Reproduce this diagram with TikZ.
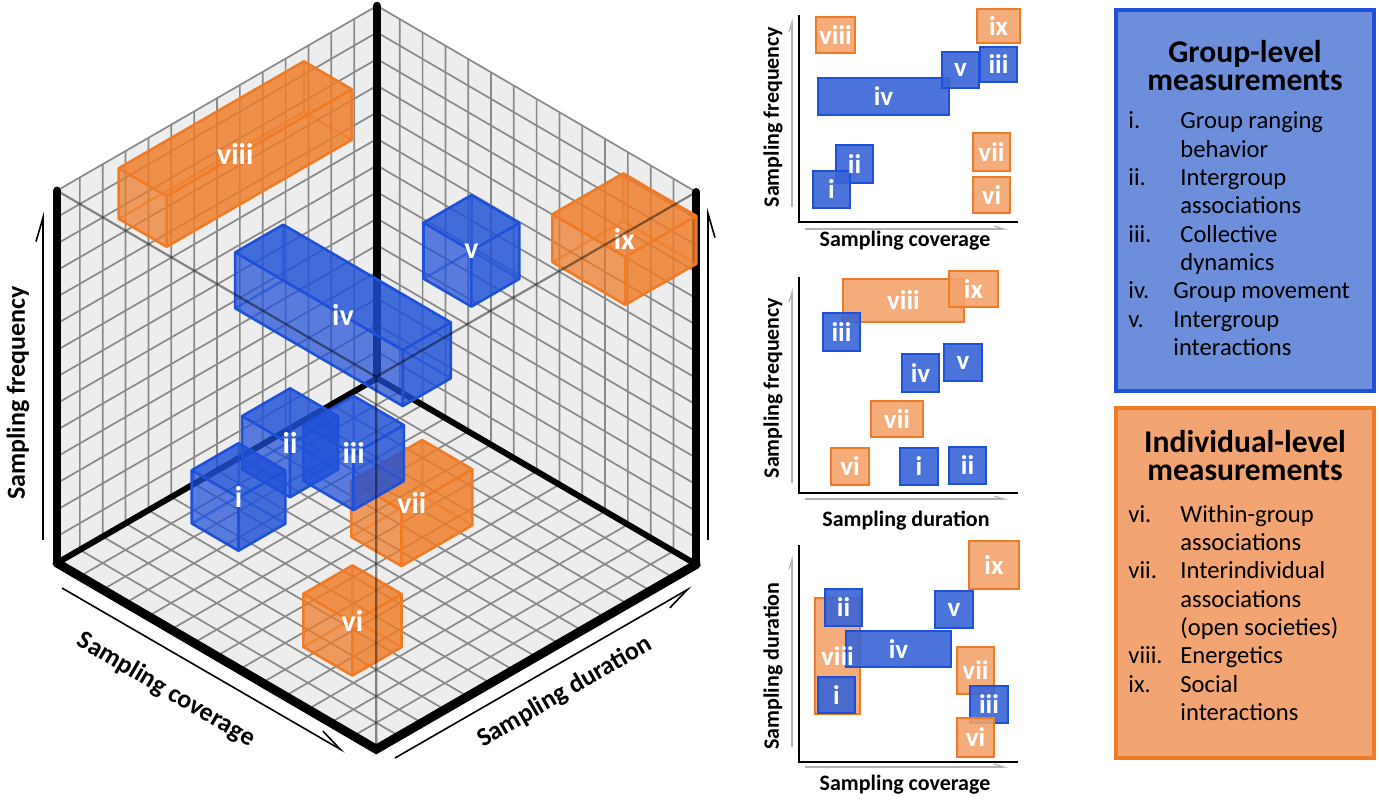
\documentclass[tikz,border=0pt]{standalone}
\usepackage{fontspec}
\setmainfont{Carlito}
\usetikzlibrary{arrows.meta}

\definecolor{cubeblue}{HTML}{1F50D8}
\definecolor{cubeorange}{HTML}{EF7B27}
\definecolor{panelblue}{HTML}{3864D6}
\definecolor{panelorange}{HTML}{F3A36C}
\definecolor{legblue}{HTML}{6C8EDB}
\definecolor{legorange}{HTML}{F2A572}
\definecolor{wallgray}{HTML}{EDEDED}
\definecolor{gridgray}{HTML}{8A8A8A}

\tikzset{
  grid line/.style = {gridgray, line width = 0.85pt},
  frame edge/.style = {line width = 4pt, line cap = round},
  ghost edge/.style = {black, opacity = 0.45, line width = 1.1pt},
  boxedge/.style = {line width = 1.3pt, line join = round},
  boxlbl/.style = {text = white, font = \fontsize{15}{15}\selectfont\bfseries},
  axis arrow/.style = {line width = 0.8pt},
  big axis/.style = {font = \fontsize{13}{13}\selectfont\bfseries},
  gbox/.style = {draw = cubeblue, fill = panelblue, line width = 1.4pt, fill opacity = 0.9},
  obox/.style = {draw = cubeorange, fill = panelorange, line width = 1.4pt, fill opacity = 0.9},
  plbl/.style = {text = white, font = \fontsize{13.5}{13.5}\selectfont\bfseries, inner sep = 0pt},
  panel axis/.style = {line width = 1.4pt},
  panel hint/.style = {gray!60, line width = 0.6pt, -{Straight Barb[harpoon, length = 5pt, width = 3pt]}},
  panel label/.style = {font = \fontsize{11}{11}\selectfont\bfseries},
  leg title/.style = {font = \fontsize{15.8}{16}\selectfont\bfseries, anchor = base},
  leg text/.style = {font = \fontsize{12.3}{14}\selectfont, anchor = base west, inner sep = 0pt},
}

% translucent box: c0 d0 f0 c1 d1 f1 colour label
\newcommand\isobox[8]{%
  \fill[#7, fill opacity = 0.55] (#1,#2,#3) -- (#4,#2,#3) -- (#4,#5,#3) -- (#1,#5,#3) -- cycle
    (#1,#2,#3) -- (#1,#5,#3) -- (#1,#5,#6) -- (#1,#2,#6) -- cycle
    (#1,#5,#3) -- (#4,#5,#3) -- (#4,#5,#6) -- (#1,#5,#6) -- cycle;
  \draw[#7, boxedge, opacity = 0.6] (#1,#5,#3) -- (#1,#5,#6) (#1,#5,#3) -- (#4,#5,#3) (#1,#5,#3) -- (#1,#2,#3);
  \fill[#7, fill opacity = 0.6] (#1,#2,#6) -- (#4,#2,#6) -- (#4,#5,#6) -- (#1,#5,#6) -- cycle
    (#4,#2,#3) -- (#4,#5,#3) -- (#4,#5,#6) -- (#4,#2,#6) -- cycle;
  \fill[#7, fill opacity = 0.38] (#1,#2,#3) -- (#4,#2,#3) -- (#4,#2,#6) -- (#1,#2,#6) -- cycle;
  \draw[#7, boxedge] (#1,#2,#3) -- (#4,#2,#3) -- (#4,#5,#3) -- (#4,#5,#6) -- (#1,#5,#6) -- (#1,#2,#6) -- cycle
    (#4,#2,#3) -- (#4,#2,#6) (#1,#2,#6) -- (#4,#2,#6) -- (#4,#5,#6);
  \node[boxlbl] (b#8) at ({(#1+#4)/2},{(#2+#5)/2},{(#3+#6)/2}) {#8};
}

% boxes of one 2d panel: prefix, list
\newcommand\panelboxes[2]{%
  \foreach \nm/\st/\xa/\ya/\xb/\yb in {#2}
    \draw[\st] (\xa,\ya) rectangle (\xb,\yb);
  \foreach \nm/\st/\xa/\ya/\xb/\yb in {#2}
    \node[plbl] (#1\nm) at ({(\xa+\xb)/2},{(\ya+\yb)/2}) {\nm};
}

\begin{document}
\begin{tikzpicture}[x = 0.5pt, y = -0.5pt]
  \useasboundingbox (0,0) rectangle (1379,800);

  % the cube
  \begin{scope}[shift = {(57,563)}, x = {(11.4pt,-6.65pt)}, y = {(11.43pt,6.6pt)}, z = {(0pt,13.3pt)}]
    \fill[wallgray] (0,0,0) -- (0,14,0) -- (0,14,14) -- (0,0,14) -- cycle;
    \fill[wallgray] (0,14,0) -- (14,14,0) -- (14,14,14) -- (0,14,14) -- cycle;
    \fill[wallgray] (0,0,0) -- (14,0,0) -- (14,14,0) -- (0,14,0) -- cycle;
    \foreach \i in {0,...,14} {
      \draw[grid line] (0,\i,0) -- (0,\i,14) (0,0,\i) -- (0,14,\i);
      \draw[grid line] (\i,14,0) -- (\i,14,14) (0,14,\i) -- (14,14,\i);
      \draw[grid line] (\i,0,0) -- (\i,14,0) (0,\i,0) -- (14,\i,0);
    }
    \draw[frame edge, line width = 3pt] (0,0,0) -- (0,14,0) -- (14,14,0);
    \draw[frame edge] (0,0,0) -- (0,0,14) (0,14,0) -- (0,14,14) (14,14,0) -- (14,14,14);
    \draw[frame edge, line width = 4.5pt] (0,0,0) -- (14,0,0) -- (14,14,0);

    \isobox{1.1}{7.0}{0.6}{3.2}{9.1}{2.6}{cubeblue}{ii}
    \isobox{2.45}{3.45}{1.0}{4.5}{5.5}{3.0}{cubeblue}{i}
    \isobox{0}{2.7}{11.6}{2.1}{10.8}{13.5}{cubeorange}{viii}
    \isobox{1.9}{5.9}{7.6}{9.25}{8.0}{9.7}{cubeblue}{iv}
    \isobox{6.7}{9.35}{9.4}{8.8}{11.45}{11.5}{cubeblue}{v}
    \isobox{8.85}{4.05}{3.4}{11.05}{7.15}{5.5}{cubeorange}{vii}
    \isobox{9.05}{1.75}{0.5}{11.2}{3.9}{2.5}{cubeorange}{vi}
    \isobox{10.8}{10.9}{11.3}{14}{14}{13.1}{cubeorange}{ix}
    \isobox{8.8}{2.0}{6.5}{11.0}{4.2}{8.6}{cubeblue}{iii}

    \draw[ghost edge] (0,0,14) -- (14,0,14) -- (14,14,14) (14,0,14) -- (14,0,0);
  \end{scope}

  % axes of the cube
  \draw[axis arrow, -{Straight Barb[harpoon, length = 12pt, width = 7pt]}] (43,540) -- (43,212);
  \draw[axis arrow, -{Straight Barb[harpoon, swap, length = 12pt, width = 7pt]}] (708,540) -- (708,208);
  \draw[axis arrow, -{Straight Barb[harpoon, length = 12pt, width = 7pt]}] (62,588) -- (345,752);
  \draw[axis arrow, -{Straight Barb[harpoon, swap, length = 12pt, width = 7pt]}] (395,758) -- (692,587);
  \node[big axis, rotate = 90] (freq3d) at (18,393) {Sampling frequency};
  \node[big axis, rotate = -30.4] (cov3d) at (166,690) {Sampling coverage};
  \node[big axis, rotate = 30.2] (dur3d) at (565,692) {Sampling duration};

  % panel 1: frequency vs coverage
  \draw[panel hint] (792,207) -- (792,18);
  \draw[panel hint] (805,229) -- (1008,229);
  \panelboxes{pA}{viii/obox/816/17/855/53, ix/obox/977/9/1020/43, iv/gbox/818/78/949/115,
    v/gbox/942/52/979/88, iii/gbox/980/47/1017/82, ii/gbox/836/145/873/183,
    i/gbox/813/171/850/208, vii/obox/973/133/1010/171, vi/obox/973/177/1010/213}
  \draw[panel axis] (799,15) -- (799,222) -- (1018,222);
  \node[panel label, rotate = 90] (pAy) at (773,117) {Sampling frequency};
  \node[panel label] (pAx) at (905,241) {Sampling coverage};

  % panel 2: frequency vs duration
  \draw[panel hint] (792,483) -- (792,288);
  \draw[panel hint] (805,499) -- (1008,499);
  \panelboxes{pB}{viii/obox/843/279/964/322, ix/obox/949/271/998/307, iii/gbox/823/313/860/351,
    iv/gbox/902/354/939/392, v/gbox/944/344/982/381, vii/obox/871/401/923/437,
    vi/obox/831/448/869/485, i/gbox/900/448/938/485, ii/gbox/949/447/986/484}
  \draw[panel axis] (799,277) -- (799,493) -- (1018,493);
  \node[panel label, rotate = 90] (pBy) at (773,388) {Sampling frequency};
  \node[panel label] (pBx) at (906,521) {Sampling duration};

  % panel 3: duration vs coverage
  \draw[panel hint] (792,747) -- (792,555);
  \draw[panel hint] (805,767) -- (1008,767);
  \panelboxes{pC}{ix/obox/969/541/1019/589, viii/obox/815/598/860/714, ii/gbox/825/589/862/626,
    v/gbox/935/591/973/628, iv/gbox/846/631/951/667, vii/obox/957/647/994/694,
    i/gbox/818/677/855/713, iii/gbox/970/686/1008/723, vi/obox/957/718/994/757}
  \draw[panel axis] (799,545) -- (799,762) -- (1018,762);
  \node[panel label, rotate = 90] (pCy) at (773,666) {Sampling duration};
  \node[panel label] (pCx) at (905,785) {Sampling coverage};

  % legend
  \draw[draw = cubeblue, fill = legblue, line width = 1.6pt] (1116,10) rectangle (1374,391);
  \node[leg title] (gtitle) at (1245,62) {Group-level};
  \node[leg title] (gtitle2) at (1245,90) {measurements};
  \foreach \num/\yy [count = \k] in {i./128, ii./185, iii./242, iv./298, v./327}
    \node[leg text] (gn\k) at (1128,\yy) {\num};
  \foreach \tx/\xx/\yy [count = \k] in {Group ranging/1180/128, behavior/1180/157,
      Intergroup/1180/185, associations/1180/213, Collective/1180/242, dynamics/1180/270,
      Group movement/1173/298, Intergroup/1173/327, interactions/1173/355}
    \node[leg text] (gt\k) at (\xx,\yy) {\tx};

  \draw[draw = cubeorange, fill = legorange, line width = 1.6pt] (1116,408) rectangle (1374,758);
  \node[leg title] (otitle) at (1245,452) {Individual-level};
  \node[leg title] (otitle2) at (1245,480) {measurements};
  \foreach \num/\yy [count = \k] in {vi./522, vii./578, viii./663, ix./692}
    \node[leg text] (on\k) at (1128,\yy) {\num};
  \foreach \tx/\yy [count = \k] in {Within-group/522, associations/550, Interindividual/578,
      associations/607, (open societies)/635, Energetics/663, Social/692, interactions/720}
    \node[leg text] (ot\k) at (1180,\yy) {\tx};
\end{tikzpicture}
\end{document}
